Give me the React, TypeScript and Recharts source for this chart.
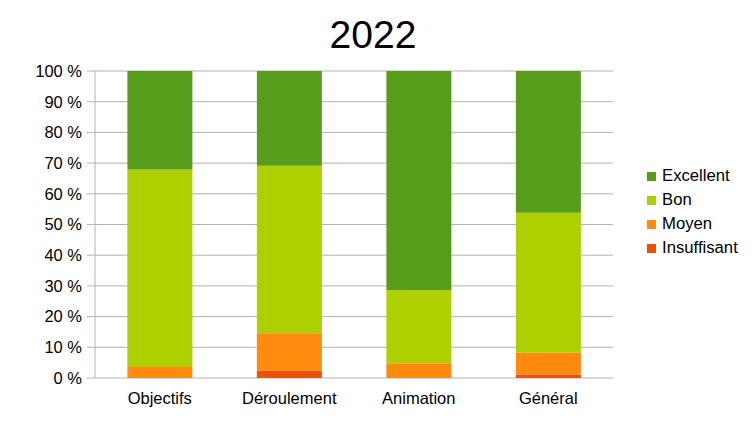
import { BarChart, Bar, XAxis, YAxis, CartesianGrid, ReferenceLine } from 'recharts'

const categories = ['Objectifs', 'Déroulement', 'Animation', 'Général']
const insuffisant = [0, 2.4, 0, 1.1]
const moyen = [3.6, 12.2, 4.8, 7.1]
const bon = [64.3, 54.5, 23.8, 45.6]
const excellent = [32.1, 30.9, 71.4, 46.2]
const yTicks = [0, 10, 20, 30, 40, 50, 60, 70, 80, 90, 100]
const bounds = [0, 1, 2, 3, 4]

const series = [
  { key: 'insuffisant', name: 'Insuffisant', color: '#ee5008' },
  { key: 'moyen', name: 'Moyen', color: '#fe8a0e' },
  { key: 'bon', name: 'Bon', color: '#aecf00' },
  { key: 'excellent', name: 'Excellent', color: '#579d1c' },
]

const data = categories.map((name, i) => ({
  name,
  insuffisant: insuffisant[i],
  moyen: moyen[i],
  bon: bon[i],
  excellent: excellent[i],
}))

const font = "'Liberation Sans', Arial, sans-serif"
const grid = '#b3b3b3'

export default function App() {
  return (
    <div style={{ position: 'absolute', left: 0, top: 0, width: 756, height: 426, fontFamily: font, background: '#fff' }}>
      <div style={{ position: 'absolute', left: 0, top: 15, width: 746, textAlign: 'center', fontSize: 39, lineHeight: 1, color: '#000' }}>
        2022
      </div>
      <BarChart
        width={756}
        height={426}
        data={data}
        margin={{ top: 71, right: 143, left: 0, bottom: 0 }}
        barCategoryGap="25%"
      >
        <CartesianGrid vertical={false} stroke={grid} />
        <XAxis xAxisId="b" type="number" domain={[0, 4]} ticks={bounds} height={0}
          axisLine={{ stroke: grid, strokeWidth: 2 }} tickLine={{ stroke: grid }} tickSize={6}
          tickFormatter={() => ''} />
        <XAxis xAxisId="cat" dataKey="name" height={48} axisLine={false} tickLine={false}
          tickSize={6} tickMargin={8} tick={{ fill: '#000', fontSize: 16.5 }} interval={0} />
        <YAxis width={95} domain={[0, 100]} ticks={yTicks} tickFormatter={(v) => `${v} %`}
          axisLine={{ stroke: grid }} tickLine={{ stroke: grid }} tickSize={8} tickMargin={5}
          tick={{ fill: '#000', fontSize: 16.5 }} />
        <ReferenceLine xAxisId="b" x={4} stroke={grid} />
        {series.map(s => (
          <Bar key={s.key} xAxisId="cat" dataKey={s.key} name={s.name} stackId="a" fill={s.color} isAnimationActive={false} />
        ))}
      </BarChart>
      <div style={{ position: 'absolute', left: 647, top: 164, fontSize: 16.7, color: '#000' }}>
        {[...series].reverse().map(s => (
          <div key={s.key} style={{ display: 'flex', alignItems: 'center', height: 24 }}>
            <span style={{ display: 'inline-block', width: 9, height: 9, background: s.color, marginRight: 6 }} />
            <span>{s.name}</span>
          </div>
        ))}
      </div>
    </div>
  )
}
